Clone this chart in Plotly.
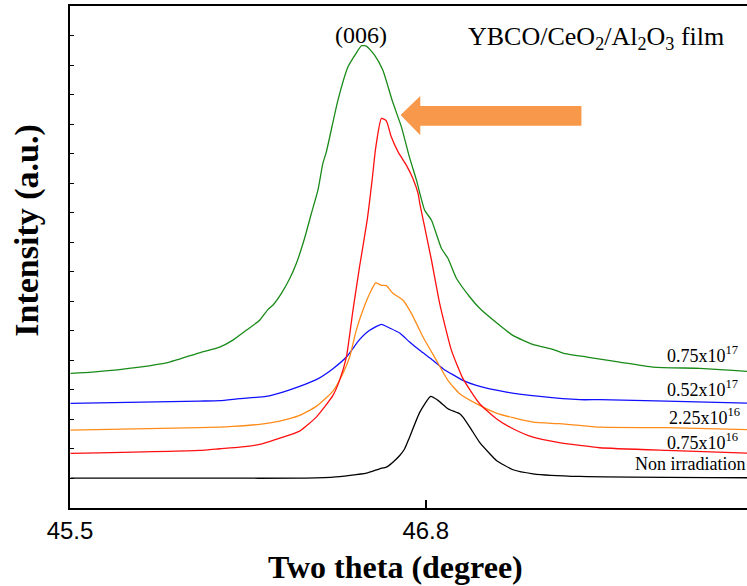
import plotly.graph_objects as go

# ---- data (two theta in degrees, intensity in arbitrary units) ----
green_x = [45.502, 45.582, 45.754, 45.864, 45.973, 46.047, 46.094, 46.144, 46.193, 46.223, 46.241,
           46.272, 46.303, 46.327, 46.357, 46.382, 46.406, 46.424, 46.437, 46.479, 46.516, 46.546,
           46.565, 46.583, 46.613, 46.643, 46.679, 46.711, 46.741, 46.766, 46.796, 46.821, 46.857,
           46.881, 46.912, 46.961, 46.997, 47.070, 47.118, 47.191, 47.264, 47.301, 47.389, 47.509,
           47.630, 47.802, 47.922, 47.974]
green_y = [134.5, 135.8, 140.8, 145.8, 155.0, 160.8, 167.5, 177.5, 187.5, 198.2, 202.5,
           214.2, 229.2, 244.2, 269.2, 294.2, 317.5, 344.2, 356.0, 407.2, 440.8, 454.5,
           461.8, 461.5, 452.5, 437.5, 405.8, 380.8, 350.0, 327.5, 297.5, 287.5, 259.5,
           249.5, 229.5, 210.8, 199.5, 182.5, 172.5, 163.5, 158.5, 154.8, 150.8, 145.8,
           140.8, 139.5, 137.5, 136.5]

blue_x = [45.502, 45.973, 46.047, 46.120, 46.217, 46.278, 46.339, 46.400, 46.461, 46.510, 46.558,
          46.595, 46.638, 46.668, 46.705, 46.741, 46.778, 46.826, 46.863, 46.936, 46.985, 47.095,
          47.217, 47.363, 47.436, 47.680, 47.974]
blue_y = [104.5, 106.8, 107.2, 109.2, 111.5, 115.8, 121.5, 128.2, 139.2, 150.8, 168.2,
          177.5, 183.5, 179.8, 174.8, 165.8, 157.5, 147.5, 139.2, 127.5, 122.5, 115.8,
          111.5, 108.2, 108.2, 106.8, 104.8]

orange_x = [45.502, 45.973, 46.047, 46.094, 46.193, 46.266, 46.339, 46.400, 46.461, 46.497, 46.522,
            46.546, 46.577, 46.601, 46.617, 46.638, 46.656, 46.679, 46.717, 46.748, 46.778, 46.790,
            46.839, 46.881, 46.924, 46.997, 47.058, 47.119, 47.192, 47.290, 47.363, 47.436, 47.680,
            47.974]
orange_y = [77.8, 80.2, 80.8, 81.5, 83.5, 86.8, 92.5, 101.5, 116.8, 134.2, 150.8,
            177.5, 202.5, 217.5, 224.8, 222.5, 222.2, 214.8, 207.5, 194.2, 177.5, 170.8,
            147.5, 127.5, 114.2, 102.5, 94.8, 90.2, 85.8, 84.2, 82.5, 80.8, 80.2,
            78.2]

red_x = [45.502, 45.973, 46.047, 46.120, 46.193, 46.278, 46.339, 46.400, 46.461, 46.485, 46.510,
         46.534, 46.558, 46.586, 46.604, 46.617, 46.638, 46.656, 46.674, 46.699, 46.729, 46.753,
         46.772, 46.778, 46.796, 46.821, 46.851, 46.894, 46.936, 46.997, 47.058, 47.119, 47.192,
         47.278, 47.363, 47.436, 47.680, 47.974]
red_y = [54.5, 57.5, 59.2, 60.8, 63.5, 70.8, 76.8, 90.8, 112.5, 127.5, 150.8,
         197.5, 240.8, 287.5, 327.5, 359.5, 389.2, 386.8, 370.8, 355.8, 342.5, 329.2,
         314.2, 304.5, 280.8, 247.5, 204.2, 157.5, 129.2, 104.2, 89.2, 79.2, 70.8,
         65.8, 62.5, 60.2, 57.5, 54.8]

black_x = [45.502, 46.047, 46.339, 46.461, 46.583, 46.632, 46.656, 46.680, 46.705, 46.723, 46.741,
           46.778, 46.818, 46.845, 46.881, 46.924, 46.936, 46.961, 46.997, 47.034, 47.058, 47.119,
           47.192, 47.363, 47.974]
black_y = [29.8, 29.8, 29.8, 30.8, 34.8, 39.2, 40.8, 45.8, 52.5, 59.2, 70.8,
           95.5, 111.5, 107.5, 99.2, 94.2, 90.8, 80.8, 65.5, 54.2, 47.5, 38.2,
           34.2, 31.5, 30.2]

series = [
    ("0.75x10<sup>17</sup>", green_x, green_y, "#1a8a1a"),
    ("0.52x10<sup>17</sup>", blue_x, blue_y, "#1010ff"),
    ("2.25x10<sup>16</sup>", orange_x, orange_y, "#ff8c1a"),
    ("0.75x10<sup>16</sup>", red_x, red_y, "#ff1010"),
    ("Non irradiation", black_x, black_y, "#000000"),
]
label_x = [0.99, 0.99, 0.993, 0.99, 1.0]
label_y = [153, 119, 91, 66, 44]

x_ticks = [45.5, 46.8]
x_range = [45.5, 47.974]
y_range = [0, 501.5]

SERIF = "Liberation Serif, Times New Roman, serif"
SANS = "Liberation Sans, Arial, sans-serif"

fig = go.Figure()
for name, xs, ys, col in series:
    fig.add_trace(go.Scatter(x=xs, y=ys, mode="lines", name=name,
                             line=dict(color=col, width=1.3, shape="spline", smoothing=0.5),
                             showlegend=False))

annotations = []
for (name, xs, ys, col), lx, ly in zip(series, label_x, label_y):
    annotations.append(dict(text=name, x=lx, y=ly, xref="paper", yref="y",
                            xanchor="right", yanchor="middle", showarrow=False,
                            font=dict(family=SERIF, size=18, color="black")))

annotations += [
    dict(text="(006)", x=46.562, y=472.5, xref="x", yref="y", showarrow=False,
         xanchor="center", yanchor="middle", font=dict(family=SERIF, size=24, color="black")),
    dict(text="YBCO/CeO<sub>2</sub>/Al<sub>2</sub>O<sub>3</sub> film", x=47.423, y=470,
         xref="x", yref="y", showarrow=False, xanchor="center", yanchor="middle",
         font=dict(family=SERIF, size=26, color="black")),
    dict(text="<b>Two theta (degree)</b>", x=0.481, y=-0.117, xref="paper", yref="paper",
         showarrow=False, xanchor="center", yanchor="middle",
         font=dict(family=SERIF, size=32, color="black")),
    dict(text="<b>Intensity (a.u.)</b>", x=-0.063, y=0.553, xref="paper", yref="paper",
         showarrow=False, xanchor="center", yanchor="middle", textangle=-90,
         font=dict(family=SERIF, size=34, color="black")),
]

# orange arrow pointing left
tip_x, head_x, tail_x = 46.708, 46.780, 47.369
mid_y, head_top, head_bot, shaft_top, shaft_bot = 392.5, 411.5, 372.5, 401.5, 381.8
arrow_path = (f"M {tip_x} {mid_y} L {head_x} {head_top} L {head_x} {shaft_top} "
              f"L {tail_x} {shaft_top} L {tail_x} {shaft_bot} L {head_x} {shaft_bot} "
              f"L {head_x} {head_bot} Z")

fig.update_layout(
    width=747, height=586,
    margin=dict(l=70, r=0, t=6, b=78),
    paper_bgcolor="white", plot_bgcolor="white",
    annotations=annotations,
    shapes=[dict(type="path", path=arrow_path, xref="x", yref="y",
                 fillcolor="#f7984a", line=dict(width=0))],
    xaxis=dict(range=x_range, tickvals=x_ticks, ticktext=["45.5", "46.8"],
               ticks="inside", ticklen=8, tickwidth=1.5, tickcolor="black",
               showline=True, linewidth=2, linecolor="black", mirror=True,
               showgrid=False, zeroline=False,
               tickfont=dict(family=SANS, size=24, color="black")),
    yaxis=dict(range=y_range, tick0=0, dtick=29.5, ticks="inside", ticklen=4,
               tickwidth=1, tickcolor="black", showticklabels=False,
               showline=True, linewidth=2, linecolor="black",
               showgrid=False, zeroline=False),
)

fig.write_html("out.html")
